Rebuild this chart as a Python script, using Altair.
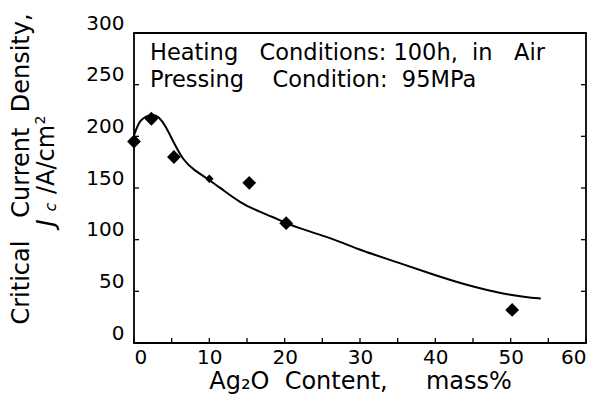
import altair as alt
import pandas as pd

# measured points
pts_x = [0, 2.3, 5.3, 10, 15.3, 20.2, 50.2]
pts_y = [195, 217, 180, 159, 155, 116, 32]
pts_small = [False, False, False, True, False, False, False]

# fitted curve
curve_x = [0, 0.4, 0.8, 1.5, 2.5, 3.3, 4.2, 5.2, 6.5, 8.0, 9.6, 12.0, 14.1, 16.0, 18.4, 20.2, 22.0, 25.0, 27.4, 30.0, 35.0, 39.8, 44.2, 47.0, 49.9, 52.0, 54.0]
curve_y = [201, 209, 215, 219, 221.5, 219, 210, 195, 177, 167, 160, 147, 136, 129, 122, 116, 111, 104, 98, 90, 78, 66, 56, 51, 46.5, 44.5, 43]

x_tick_values = [0, 5, 10, 15, 20, 25, 30, 35, 40, 45, 50, 55, 60]
x_label_values = [0, 10, 20, 30, 40, 50, 60]
y_tick_values = [0, 50, 100, 150, 200, 250, 300]

W, H = 452, 310
FONT = "DejaVu Sans"
S = "\u00a0"

pts = pd.DataFrame({"x": pts_x, "y": pts_y, "small": pts_small})
curve = pd.DataFrame({"x": curve_x, "y": curve_y})
xt = pd.DataFrame({"x": x_tick_values})
yt = pd.DataFrame({"y": y_tick_values})

xs = alt.Scale(domain=[0, 60], nice=False, zero=False)
ys = alt.Scale(domain=[0, 300], nice=False, zero=False)

xaxis = alt.Axis(values=x_label_values, title=f"Ag\u2082O{S*2}Content,{S*5}mass%", ticks=False, domain=False,
                 grid=False, labelFontSize=20, labelFont=FONT, labelColor="black", labelPadding=4,
                 titleFont=FONT, titleFontSize=24, titleFontWeight="normal", titleColor="black",
                 titlePadding=2)
yaxis = alt.Axis(values=y_tick_values, title=None, ticks=False, domain=False, grid=False,
                 labelFontSize=20, labelFont=FONT, labelColor="black", labelPadding=10,
                 labelOffset=-10)

line = alt.Chart(curve).mark_line(color="black", strokeWidth=2, interpolate="basis").encode(
    x=alt.X("x:Q", scale=xs, axis=xaxis),
    y=alt.Y("y:Q", scale=ys, axis=yaxis),
)

points = alt.Chart(pts).mark_point(shape="diamond", filled=True, color="black", opacity=1).encode(
    x=alt.X("x:Q", scale=xs),
    y=alt.Y("y:Q", scale=ys),
    size=alt.condition("datum.small", alt.value(70), alt.value(190)),
)

xticks_bottom = alt.Chart(xt).mark_rule(color="black", strokeWidth=1.3).encode(
    x=alt.X("x:Q", scale=xs), y=alt.value(H), y2=alt.value(H - 5))
yticks_left = alt.Chart(yt).mark_rule(color="black", strokeWidth=1.3).encode(
    y=alt.Y("y:Q", scale=ys), x=alt.value(0), x2=alt.value(5))
yticks_right = alt.Chart(yt).mark_rule(color="black", strokeWidth=1.3).encode(
    y=alt.Y("y:Q", scale=ys), x=alt.value(W), x2=alt.value(W - 5))

def txt(s, x, y, size=20, style="normal", align="left", angle=0, baseline="middle"):
    return alt.Chart(pd.DataFrame({"t": [s]})).mark_text(
        font=FONT, fontSize=size, fontStyle=style, align=align, baseline=baseline,
        angle=angle, color="black").encode(text="t:N", x=alt.value(x), y=alt.value(y))

ann1 = txt(f"Heating{S*3}Conditions:{S}100h,{S*2}in{S*3}Air", 16, 20, size=22.5)
ann2 = txt(f"Pressing{S*4}Condition:{S*2}95MPa", 16, 47, size=22.5)

yt1 = txt(f"Critical{S*3}Current{S*2}Density,", -112, 136, size=24, align="center", angle=270)
yj = txt("J", -87, 190, size=24, style="italic", align="center", angle=270)
yc = txt("c", -83, 174, size=16, style="italic", align="center", angle=270)
ya = txt("/A/cm", -87, 161, size=24, align="left", angle=270)
y2 = txt("2", -93, 87, size=14, align="center", angle=270)

chart = alt.layer(line, points, xticks_bottom, yticks_left, yticks_right,
                  ann1, ann2, yt1, yj, yc, ya, y2).properties(
    width=W, height=H,
    autosize=alt.AutoSizeParams(type="none"),
    padding={"left": 126, "top": 25, "right": 18, "bottom": 55},
).configure_view(stroke="black", strokeWidth=1.8)

chart.save("out.html", embed_options={"renderer": "svg", "actions": False})
